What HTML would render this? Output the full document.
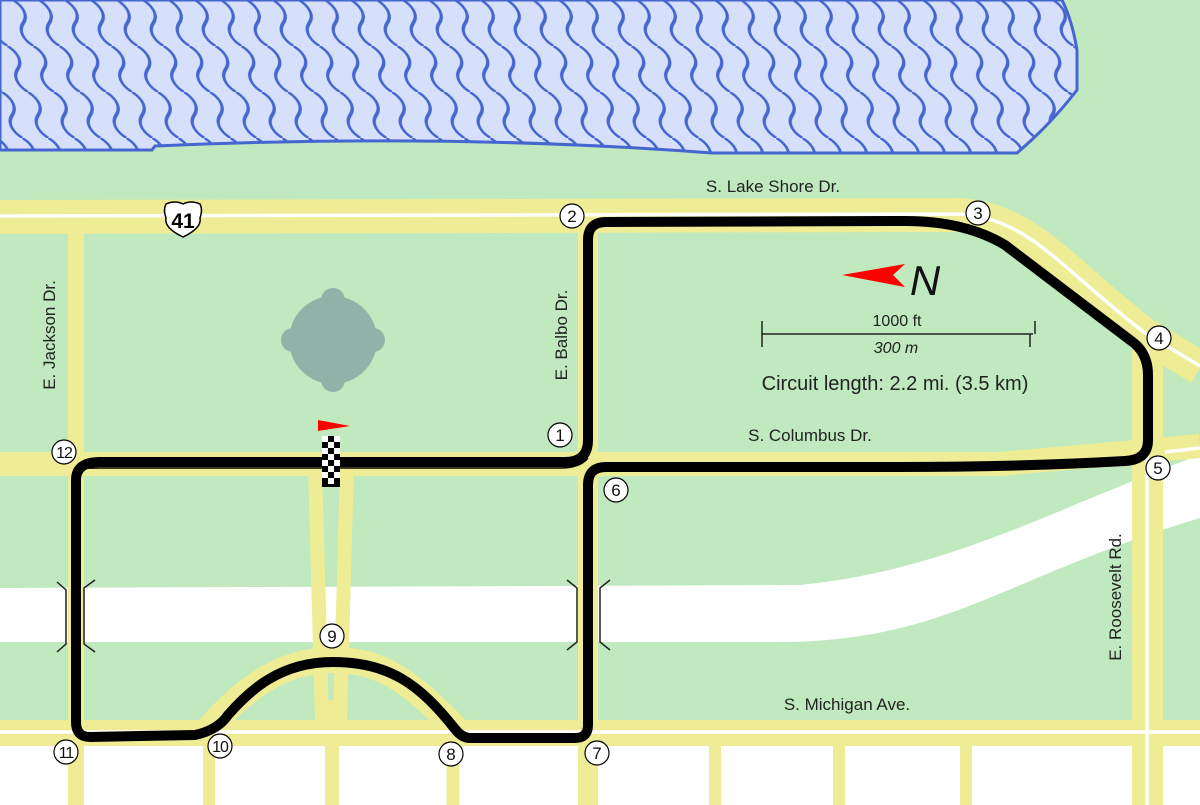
<!DOCTYPE html>
<html><head><meta charset="utf-8"><style>html,body{margin:0;padding:0;background:#fff}svg{display:block}</style></head>
<body>
<svg width="1200" height="805" viewBox="0 0 1200 805" xmlns="http://www.w3.org/2000/svg" font-family="Liberation Sans, sans-serif">
<defs>
<pattern id="wv" width="26" height="46" patternUnits="userSpaceOnUse" patternTransform="skewX(24)">
<rect x="-5" y="-5" width="36" height="56" fill="#d6e0fb"/>
<path d="M13,0 C21,7 21,16 13,23 C5,30 5,39 13,46" fill="none" stroke="#4565cf" stroke-width="3"/>
</pattern>
</defs>
<rect width="1200" height="805" fill="#c0e9c0"/>
<path d="M0,588 L800,585 C950,570 1050,510 1200,455 L1200,518 C1060,560 980,610 900,628 C860,638 820,642 780,642 L0,642 Z" fill="#fff"/>
<rect x="0" y="742" width="1200" height="63" fill="#fff"/>
<path d="M0,0 L1062,0 Q1072,20 1077,50 L1077,90 Q1050,125 1017,153 L712,153 Q450,133 155,146 L152,150 L0,150 Z" fill="url(#wv)" stroke="#4565cf" stroke-width="3"/>
<g fill="none" stroke="#eeec94" stroke-linecap="butt">
<path d="M0,217 L960,215 C1030,220 1060,270 1145,335 L1200,368" stroke-width="34"/>
<path d="M0,464 L1000,464 L1200,446" stroke-width="24"/>
<path d="M0,733 L1200,733" stroke-width="26"/>
<path d="M76,233 V805" stroke-width="16"/>
<path d="M588,233 V805" stroke-width="20"/>
<path d="M1140,350 V805" stroke-width="16"/>
<path d="M1155,350 V805" stroke-width="16"/>
<path d="M209,733 V805" stroke-width="12"/>
<path d="M453,733 V805" stroke-width="13"/>
<path d="M715,733 V805" stroke-width="12"/>
<path d="M839,733 V805" stroke-width="12"/>
<path d="M966,733 V805" stroke-width="12"/>
<path d="M315,464 L322,720 M347,464 L340,720 M332,700 V805" stroke-width="14"/>
<path d="M205,733 C250,680 290,660 333,660 C380,660 410,680 460,733" stroke-width="26"/>
</g>
<g fill="none" stroke="#fff" stroke-width="3.5">
<path d="M0,216 L960,214 C1030,219 1060,268 1145,333 L1200,366"/>
<path d="M0,732 L1200,732"/>
<path d="M1147,350 V805"/>
<path d="M1165,452 L1200,448"/>
</g>
<circle cx="333" cy="340" r="44" fill="#8fb3a8"/>
<circle cx="333" cy="300" r="12" fill="#8fb3a8"/><circle cx="333" cy="380" r="12" fill="#8fb3a8"/>
<circle cx="293" cy="340" r="12" fill="#8fb3a8"/><circle cx="373" cy="340" r="12" fill="#8fb3a8"/>
<path d="M78,470 Q80,468 100,468 L560,468 Q580,468 588,458" fill="none" stroke="#000" stroke-width="1.5"/>
<path d="M330,462 L565,462 Q588,462 588,440 L588,240 Q588,222 606,222 L905,221 Q965,221 1005,245 L1130,340 Q1148,352 1148,375 L1148,440 Q1148,460 1125,461 Q1020,467 900,467 L606,467 Q588,467 588,485 L588,725 Q588,738 575,738 L470,738 Q462,738 455,729 C420,685 390,662 333,662 C280,662 250,690 228,715 Q218,730 195,735 L90,737 Q76,737 76,722 L76,480 Q76,462 100,462 Z" fill="none" stroke="#000" stroke-width="10" stroke-linejoin="round"/>
<g fill="none" stroke="#222" stroke-width="1.5">
<path d="M57,582 L66,590 V644 L57,652 M95,580 L84,588 V644 L95,652"/>
<path d="M567,580 L577,588 V642 L567,650 M610,580 L600,588 V642 L610,650"/>
</g>
<path d="M318,420 L350,426 L318,431 Z" fill="#f00"/>
<rect x="322" y="436" width="18" height="51" fill="#000"/>
<g fill="#fff">
<rect x="322" y="436" width="6" height="6"/><rect x="334" y="436" width="6" height="6"/>
<rect x="328" y="442" width="6" height="6"/><rect x="322" y="448" width="6" height="6"/><rect x="334" y="448" width="6" height="6"/>
<rect x="328" y="454" width="6" height="6"/><rect x="322" y="460" width="6" height="6"/><rect x="334" y="460" width="6" height="6"/>
<rect x="328" y="466" width="6" height="6"/><rect x="322" y="472" width="6" height="6"/><rect x="334" y="472" width="6" height="6"/>
<rect x="328" y="478" width="6" height="6"/>
</g>
<path d="M166,204 Q175,200 183,204 Q191,200 200,204 Q203,210 200,218 Q202,228 183,237 Q164,228 166,218 Q163,210 166,204 Z" fill="#fff" stroke="#000" stroke-width="1.5"/>
<text x="183" y="228" font-size="21" font-weight="bold" text-anchor="middle">41</text>
<g fill="#fff" stroke="#000" stroke-width="1.2">
<circle cx="560" cy="435" r="12"/><circle cx="572" cy="216" r="12"/><circle cx="978" cy="213" r="12"/>
<circle cx="1159" cy="338" r="12"/><circle cx="1158" cy="468" r="12"/><circle cx="616" cy="490" r="12"/>
<circle cx="597" cy="753" r="12"/><circle cx="451" cy="754" r="12"/><circle cx="332" cy="636" r="12"/>
<circle cx="220" cy="746" r="12"/><circle cx="66" cy="752" r="12"/><circle cx="64" cy="452" r="12"/>
</g>
<g font-size="17" text-anchor="middle" fill="#111">
<text x="560" y="441">1</text><text x="572" y="222">2</text><text x="978" y="219">3</text>
<text x="1159" y="344">4</text><text x="1158" y="474">5</text><text x="616" y="496">6</text>
<text x="597" y="759">7</text><text x="451" y="760">8</text><text x="332" y="642">9</text>
<text x="220" y="752" font-size="16" letter-spacing="-1">10</text><text x="66" y="758" font-size="16" letter-spacing="-1">11</text><text x="64" y="458" font-size="16" letter-spacing="-1">12</text>
</g>
<g font-size="17" fill="#222" text-anchor="middle">
<text x="773" y="192">S. Lake Shore Dr.</text>
<text x="810" y="441">S. Columbus Dr.</text>
<text x="847" y="710">S. Michigan Ave.</text>
<text transform="translate(55,335) rotate(-90)">E. Jackson Dr.</text>
<text transform="translate(567,335) rotate(-90)">E. Balbo Dr.</text>
<text transform="translate(1121,597) rotate(-90)">E. Roosevelt Rd.</text>
</g>
<path d="M842,275 L905,264 L893,275 L905,287 Z" fill="#f00"/>
<text x="925" y="295" font-size="42" font-style="italic" text-anchor="middle" fill="#111">N</text>
<text x="897" y="326" font-size="16" text-anchor="middle" fill="#222">1000 ft</text>
<path d="M762,334 H1033 M762,321 V347 M1035,321 V334 M1030,334 V347" stroke="#222" stroke-width="1.5" fill="none"/>
<text x="896" y="353" font-size="16" font-style="italic" text-anchor="middle" fill="#222">300 m</text>
<text x="895" y="390" font-size="20" text-anchor="middle" fill="#222">Circuit length: 2.2 mi. (3.5 km)</text>
</svg>
</body></html>
